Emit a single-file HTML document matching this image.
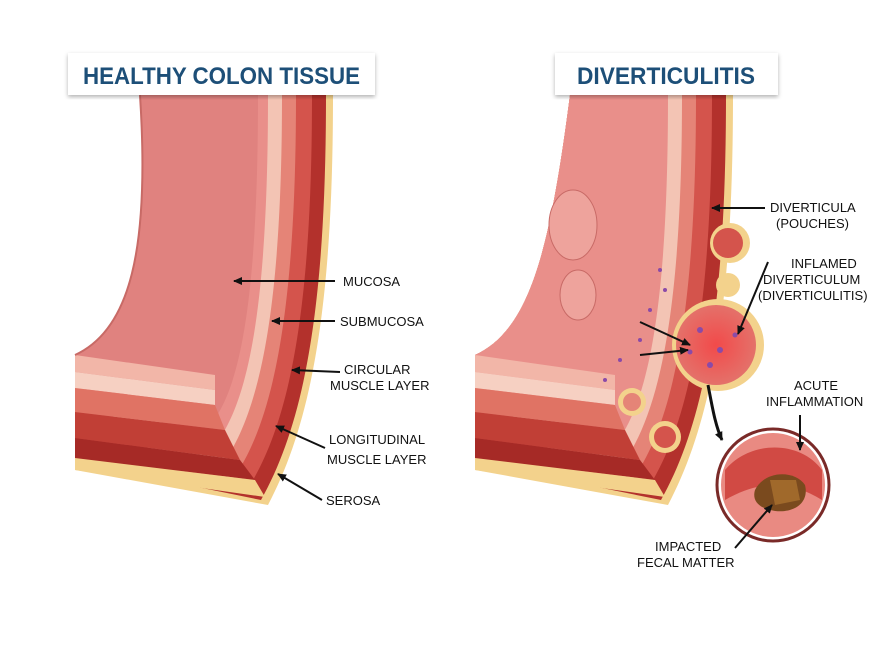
<!DOCTYPE html>
<html><head><meta charset="utf-8"><style>
html,body{margin:0;padding:0;background:#fff;}
svg{display:block;font-family:"Liberation Sans",sans-serif;}
.t{font-size:13px;fill:#111;font-family:"Liberation Sans Narrow","Liberation Sans",sans-serif;}
.ttl{font-size:24px;font-weight:bold;fill:#1d4f78;}
</style></head><body>
<svg width="890" height="664" viewBox="0 0 890 664" xmlns="http://www.w3.org/2000/svg">
<defs>
<marker id="ah" markerWidth="10" markerHeight="10" refX="8" refY="5" orient="auto" markerUnits="userSpaceOnUse">
<path d="M0,1 L9,5 L0,9 Z" fill="#111"/></marker>
<filter id="sh"><feDropShadow dx="0" dy="2" stdDeviation="2" flood-opacity="0.3"/></filter>
<radialGradient id="inf" cx="0.5" cy="0.5" r="0.5"><stop offset="0" stop-color="#f24a4a"/><stop offset="1" stop-color="#e4716a"/></radialGradient>
</defs>
<rect width="890" height="664" fill="#fff"/>

<g>
<path d="M333,95 C333,300 313,420 268,505 L75,470 L75,355 C130,330 150,250 140,95 Z" fill="#f3d28c"/>
<path d="M326,95 C326,300 306,420 261,500 L75,462 L75,355 C130,330 150,250 140,95 Z" fill="#b3312c"/>
<path d="M312,95 C312,300 292,420 247,490 L75,440 L75,355 C130,330 150,250 140,95 Z" fill="#d4544c"/>
<path d="M296,95 C296,300 276,420 232,480 L75,420 L75,355 C130,330 150,250 140,95 Z" fill="#e58477"/>
<path d="M282,95 C282,300 262,410 222,465 L75,400 L75,355 C130,330 150,250 140,95 Z" fill="#f3c4b4"/>
<path d="M268,95 C268,300 250,400 215,445 L75,385 L75,355 C130,330 150,250 140,95 Z" fill="#e98f8a"/>
<path d="M258,95 C258,300 240,390 210,425 L75,375 L75,355 C130,330 150,250 140,95 Z" fill="#e0827f"/>
<path d="M75,355 L215,375 L215,390 L75,372 Z" fill="#f2b6a8"/>
<path d="M75,372 L215,390 L215,405 L75,388 Z" fill="#f6d0c2"/>
<path d="M75,388 L215,405 L225,430 L75,412 Z" fill="#e07364"/>
<path d="M75,412 L225,430 L240,460 L75,438 Z" fill="#c13f36"/>
<path d="M75,438 L240,460 L255,480 L75,458 Z" fill="#a62a26"/>
<path d="M75,458 L255,480 L265,497 L75,470 Z" fill="#f3d28c"/>
<path d="M140,95 C150,250 130,330 75,355" fill="none" stroke="#c86a66" stroke-width="2"/>
</g>

<g>
<path d="M733,95 C733,300 713,420 668,505 L475,470 L475,355 C530,330 550,250 570,95 Z" fill="#f3d28c"/>
<path d="M726,95 C726,300 706,420 661,500 L475,462 L475,355 C530,330 550,250 570,95 Z" fill="#b3312c"/>
<path d="M712,95 C712,300 692,420 647,490 L475,440 L475,355 C530,330 550,250 570,95 Z" fill="#d4544c"/>
<path d="M696,95 C696,300 676,420 632,480 L475,420 L475,355 C530,330 550,250 570,95 Z" fill="#e58477"/>
<path d="M682,95 C682,300 662,410 622,465 L475,400 L475,355 C530,330 550,250 570,95 Z" fill="#f3c4b4"/>
<path d="M668,95 C668,300 650,400 615,445 L475,385 L475,355 C530,330 550,250 570,95 Z" fill="#e98f8a"/>
<path d="M475,355 L615,375 L615,390 L475,372 Z" fill="#f2b6a8"/>
<path d="M475,372 L615,390 L615,405 L475,388 Z" fill="#f6d0c2"/>
<path d="M475,388 L615,405 L625,430 L475,412 Z" fill="#e07364"/>
<path d="M475,412 L625,430 L640,460 L475,438 Z" fill="#c13f36"/>
<path d="M475,438 L640,460 L655,480 L475,458 Z" fill="#a62a26"/>
<path d="M475,458 L655,480 L665,497 L475,470 Z" fill="#f3d28c"/>
<ellipse cx="573" cy="225" rx="24" ry="35" fill="#eea39c" stroke="#c86a66"/>
<ellipse cx="578" cy="295" rx="18" ry="25" fill="#eea39c" stroke="#c86a66"/>
<circle cx="730" cy="243" r="20" fill="#f3d28c"/><circle cx="728" cy="243" r="15" fill="#d4544c"/>
<circle cx="728" cy="285" r="12" fill="#f3d28c"/>
<circle cx="632" cy="402" r="14" fill="#f3d28c"/><circle cx="632" cy="402" r="9" fill="#e58477"/>
<circle cx="665" cy="437" r="16" fill="#f3d28c"/><circle cx="665" cy="437" r="11" fill="#d4544c"/>
<circle cx="718" cy="345" r="46" fill="#f3d28c"/>
<circle cx="716" cy="345" r="40" fill="url(#inf)"/>
<g fill="#8a4aa8">
<circle cx="700" cy="330" r="3"/><circle cx="720" cy="350" r="3"/><circle cx="735" cy="335" r="2.5"/><circle cx="710" cy="365" r="3"/><circle cx="690" cy="352" r="2.5"/><circle cx="665" cy="290" r="2"/><circle cx="650" cy="310" r="2"/><circle cx="640" cy="340" r="2"/><circle cx="620" cy="360" r="2"/><circle cx="660" cy="270" r="2"/><circle cx="605" cy="380" r="2"/>
</g>
</g>

<circle cx="773" cy="485" r="56" fill="#fff" stroke="#7a2a28" stroke-width="3"/>
<circle cx="773" cy="485" r="52" fill="#e98a82"/>
<path d="M725,470 C750,440 800,440 822,470 L822,500 C790,480 760,480 725,500 Z" fill="#d14a44"/>
<path d="M755,490 C765,470 795,470 805,485 C810,505 790,515 770,510 C758,507 752,500 755,490 Z" fill="#7a4a1e"/>
<path d="M770,480 L796,480 L800,500 L775,505 Z" fill="#a0692b"/>

<rect x="68" y="53" width="307" height="42" fill="#fff" filter="url(#sh)"/>
<text x="83" y="84" textLength="277" lengthAdjust="spacingAndGlyphs" class="ttl">HEALTHY COLON TISSUE</text>
<rect x="555" y="53" width="223" height="42" fill="#fff" filter="url(#sh)"/>
<text x="577" y="84" textLength="178" lengthAdjust="spacingAndGlyphs" class="ttl">DIVERTICULITIS</text>

<g stroke="#111" stroke-width="2" fill="none" marker-end="url(#ah)">
<line x1="335" y1="281" x2="234" y2="281"/>
<line x1="335" y1="321" x2="272" y2="321"/>
<line x1="340" y1="372" x2="292" y2="370"/>
<line x1="325" y1="448" x2="276" y2="426"/>
<line x1="322" y1="500" x2="278" y2="474"/>
<line x1="765" y1="208" x2="712" y2="208"/>
<line x1="768" y1="262" x2="738" y2="334"/>
<line x1="640" y1="322" x2="690" y2="345"/>
<line x1="640" y1="355" x2="688" y2="350"/>
<line x1="800" y1="415" x2="800" y2="450"/>
<line x1="735" y1="548" x2="772" y2="505"/>
</g>
<path d="M708,385 C712,405 715,425 722,440" fill="none" stroke="#111" stroke-width="3" marker-end="url(#ah)"/>
<text x="343" y="286" class="t">MUCOSA</text>
<text x="340" y="326" class="t">SUBMUCOSA</text>
<text x="344" y="374" class="t">CIRCULAR</text>
<text x="330" y="390" class="t">MUSCLE LAYER</text>
<text x="329" y="444" class="t">LONGITUDINAL</text>
<text x="327" y="464" class="t">MUSCLE LAYER</text>
<text x="326" y="505" class="t">SEROSA</text>

<text x="770" y="212" class="t">DIVERTICULA</text>
<text x="776" y="228" class="t">(POUCHES)</text>
<text x="791" y="268" class="t">INFLAMED</text>
<text x="763" y="284" class="t">DIVERTICULUM</text>
<text x="758" y="300" class="t">(DIVERTICULITIS)</text>
<text x="794" y="390" class="t">ACUTE</text>
<text x="766" y="406" class="t">INFLAMMATION</text>
<text x="655" y="551" class="t">IMPACTED</text>
<text x="637" y="567" class="t">FECAL MATTER</text>
</svg>
</body></html>
